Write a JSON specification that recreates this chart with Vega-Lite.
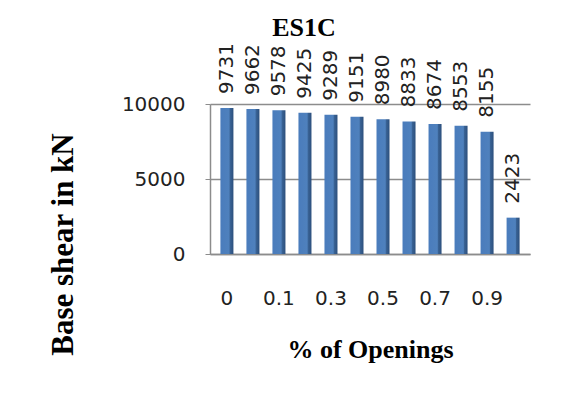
{
  "$schema": "https://vega.github.io/schema/vega-lite/v6.json",
  "autosize": "none",
  "width": 320,
  "height": 150,
  "padding": {"left": 210, "top": 104, "right": 37, "bottom": 142},
  "background": "#ffffff",
  "title": {
    "text": "ES1C",
    "font": "Liberation Serif",
    "fontSize": 26,
    "fontWeight": "bold",
    "color": "#000000",
    "anchor": "middle",
    "dx": -66,
    "offset": 2
  },
  "data": {
    "values": [
      {"opening": "0", "shear": 9731},
      {"opening": "0.05", "shear": 9662},
      {"opening": "0.1", "shear": 9578},
      {"opening": "0.2", "shear": 9425},
      {"opening": "0.3", "shear": 9289},
      {"opening": "0.4", "shear": 9151},
      {"opening": "0.5", "shear": 8980},
      {"opening": "0.6", "shear": 8833},
      {"opening": "0.7", "shear": 8674},
      {"opening": "0.8", "shear": 8553},
      {"opening": "0.9", "shear": 8155},
      {"opening": "1", "shear": 2423}
    ]
  },
  "encoding": {
    "x": {
      "field": "opening",
      "type": "ordinal",
      "sort": null,
      "scale": {"paddingInner": 0.5, "paddingOuter": 0.4},
      "axis": {
        "title": "% of Openings",
        "values": ["0", "0.1", "0.3", "0.5", "0.7", "0.9"],
        "labelAngle": 0,
        "labelFont": "DejaVu Sans",
        "labelFontSize": 20,
        "labelColor": "#222222",
        "labelPadding": 34,
        "labelDx": -5,
        "ticks": false,
        "domainColor": "#8c8c8c",
        "domainWidth": 1.5,
        "titleFont": "Liberation Serif",
        "titleFontSize": 26,
        "titleFontWeight": "bold",
        "titleColor": "#000000",
        "titlePadding": 28
      }
    },
    "y": {
      "field": "shear",
      "type": "quantitative",
      "scale": {"domain": [0, 10000], "nice": false},
      "axis": {
        "title": "Base shear in kN",
        "values": [0, 5000, 10000],
        "format": "d",
        "labelFont": "DejaVu Sans",
        "labelFontSize": 20,
        "labelColor": "#222222",
        "labelPadding": 20,
        "tickColor": "#8c8c8c",
        "tickSize": 5,
        "domainColor": "#8c8c8c",
        "domainWidth": 1.5,
        "gridColor": "#8c8c8c",
        "gridWidth": 1.5,
        "titleFont": "Liberation Serif",
        "titleFontSize": 31,
        "titleFontWeight": "bold",
        "titleColor": "#000000",
        "titlePadding": 42,
        "titleY": 140
      }
    }
  },
  "layer": [
    {
      "mark": {
        "type": "bar",
        "color": {
          "gradient": "linear",
          "x1": 0, "y1": 0, "x2": 1, "y2": 0,
          "stops": [
            {"offset": 0, "color": "#4a7cbc"},
            {"offset": 0.68, "color": "#4f81bd"},
            {"offset": 0.72, "color": "#3b6598"},
            {"offset": 1, "color": "#2c4f7c"}
          ]
        }
      }
    },
    {
      "mark": {
        "type": "text",
        "angle": -90,
        "align": "left",
        "baseline": "middle",
        "dx": 14,
        "font": "DejaVu Sans",
        "fontSize": 20,
        "color": "#222222"
      },
      "encoding": {"text": {"field": "shear", "type": "quantitative", "format": "d"}}
    }
  ],
  "config": {
    "view": {"stroke": null}
  }
}
